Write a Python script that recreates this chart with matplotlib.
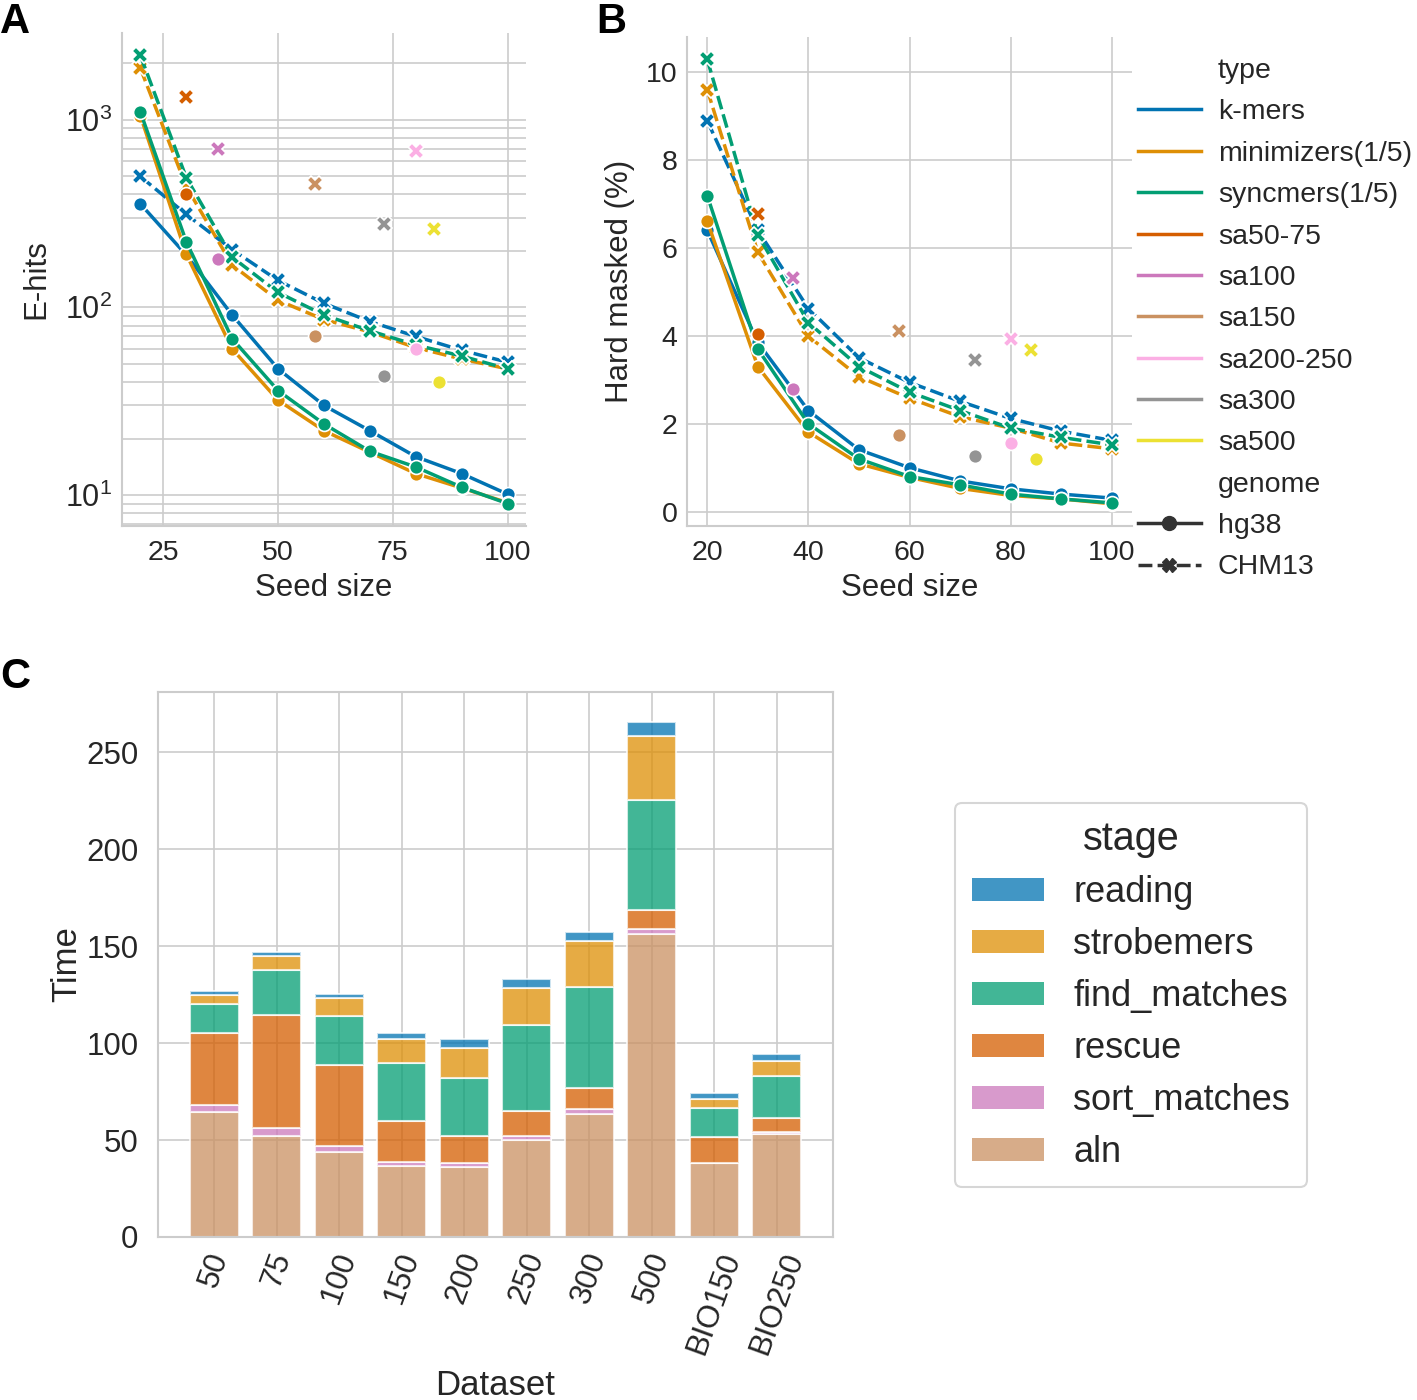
import matplotlib
matplotlib.use("Agg")
import matplotlib.pyplot as plt
from matplotlib.lines import Line2D
from matplotlib.patches import Patch
from matplotlib.ticker import LogLocator, NullFormatter, MultipleLocator

plt.rcParams['font.family'] = ['Liberation Sans', 'DejaVu Sans']
plt.rcParams['mathtext.fontset'] = 'custom'
plt.rcParams['mathtext.rm'] = 'Liberation Sans'
plt.rcParams['mathtext.it'] = 'Liberation Sans:italic'
plt.rcParams['text.color'] = '#262626'
plt.rcParams['axes.labelcolor'] = '#262626'
plt.rcParams['xtick.color'] = '#262626'
plt.rcParams['ytick.color'] = '#262626'

# ---------------- data ----------------
seeds = [20, 30, 40, 50, 60, 70, 80, 90, 100]
types = ['k-mers', 'minimizers(1/5)', 'syncmers(1/5)']

ehits_kmers_hg38 = [356, 190, 91, 47, 30, 22, 16, 13, 10.1]
ehits_minim_hg38 = [1050, 192, 60, 32, 22, 16.9, 13, 10.9, 9.1]
ehits_syncm_hg38 = [1100, 224, 68, 36, 23.9, 17.1, 14.1, 11, 9.0]
ehits_kmers_chm13 = [498, 313, 203, 139, 105, 84, 70, 59, 51]
ehits_minim_chm13 = [1880, 440, 168, 109, 86, 74, 61, 53, 47]
ehits_syncm_chm13 = [2200, 491, 185, 120, 91, 75, 63, 55, 47]

masked_kmers_hg38 = [6.40, 3.85, 2.30, 1.41, 1.00, 0.70, 0.52, 0.40, 0.31]
masked_minim_hg38 = [6.61, 3.30, 1.81, 1.09, 0.78, 0.53, 0.37, 0.29, 0.18]
masked_syncm_hg38 = [7.19, 3.70, 2.00, 1.20, 0.80, 0.61, 0.40, 0.29, 0.20]
masked_kmers_chm13 = [8.89, 6.40, 4.62, 3.50, 2.94, 2.51, 2.12, 1.83, 1.62]
masked_minim_chm13 = [9.60, 5.90, 3.99, 3.07, 2.58, 2.16, 1.90, 1.56, 1.43]
masked_syncm_chm13 = [10.29, 6.30, 4.30, 3.30, 2.72, 2.30, 1.90, 1.69, 1.52]

sa_types = ['sa50-75', 'sa100', 'sa150', 'sa200-250', 'sa300', 'sa500']
sa_seed_hg38 = [30, 37, 58, 80, 73, 85]
sa_seed_chm13 = [30, 37, 58, 80, 73, 84]
sa_ehits_hg38 = [403, 180, 70, 60, 43, 40]
sa_ehits_chm13 = [1325, 695, 454, 680, 277, 261]
sa_masked_hg38 = [4.04, 2.78, 1.74, 1.56, 1.27, 1.20]
sa_masked_chm13 = [6.77, 5.32, 4.10, 3.92, 3.44, 3.67]

datasets = ['50', '75', '100', '150', '200', '250', '300', '500', 'BIO150', 'BIO250']
stages = ['reading', 'strobemers', 'find_matches', 'rescue', 'sort_matches', 'aln']
time_aln = [64.6, 52.0, 43.7, 36.7, 36.2, 49.9, 63.4, 156.1, 38.0, 53.2]
time_sort = [3.3, 4.0, 3.1, 1.9, 1.8, 2.4, 2.7, 2.7, 0.2, 1.0]
time_rescue = [37.1, 58.4, 42.1, 21.4, 14.3, 12.9, 10.5, 9.6, 13.2, 7.3]
time_find = [15.0, 23.3, 25.3, 29.6, 29.8, 44.1, 52.5, 57.1, 15.1, 21.5]
time_strobe = [4.9, 7.0, 8.8, 12.7, 15.6, 19.2, 23.7, 32.9, 4.7, 7.9]
time_reading = [1.8, 2.0, 2.2, 2.9, 4.2, 4.6, 4.7, 6.9, 2.8, 3.7]

# ---------------- style ----------------
cb = ['#0173b2', '#de8f05', '#029e73', '#d55e00', '#cc78bc',
      '#ca9161', '#fbafe4', '#949494', '#ece133', '#56b4e9']
type_colors = cb[:3]
sa_colors = cb[3:9]
stage_colors = {'reading': cb[0], 'strobemers': cb[1], 'find_matches': cb[2],
                'rescue': cb[3], 'sort_matches': cb[4], 'aln': cb[5]}
GRID = '#cccccc'
LW = 2.5
MS = 10
DASH = (4, 1.5)

W, H = 1417, 1400
fig = plt.figure(figsize=(W / 100, H / 100), dpi=100)

def style_axes(ax, tick_fs, full_frame=False, xpad=10, ypad=7):
    ax.set_axisbelow(True)
    ax.grid(True, color=GRID, linewidth=1.2)
    for side, sp in ax.spines.items():
        sp.set_color(GRID)
        sp.set_linewidth(1.5)
        if not full_frame and side in ('top', 'right'):
            sp.set_visible(False)
    ax.tick_params(axis='both', which='both', length=0, labelsize=tick_fs)
    ax.tick_params(axis='x', pad=xpad)
    ax.tick_params(axis='y', pad=ypad)

axA = fig.add_axes([122 / W, 1 - 526 / H, (526 - 122) / W, (526 - 33) / H])
axB = fig.add_axes([687 / W, 1 - 526 / H, (1132 - 687) / W, (526 - 37) / H])
axC = fig.add_axes([158 / W, 1 - 1237 / H, (833 - 158) / W, (1237 - 692) / H])

ehits_hg38 = [ehits_kmers_hg38, ehits_minim_hg38, ehits_syncm_hg38]
ehits_chm13 = [ehits_kmers_chm13, ehits_minim_chm13, ehits_syncm_chm13]
masked_hg38 = [masked_kmers_hg38, masked_minim_hg38, masked_syncm_hg38]
masked_chm13 = [masked_kmers_chm13, masked_minim_chm13, masked_syncm_chm13]

for ax, hg, chm, sah, sac in [(axA, ehits_hg38, ehits_chm13, sa_ehits_hg38, sa_ehits_chm13),
                              (axB, masked_hg38, masked_chm13, sa_masked_hg38, sa_masked_chm13)]:
    for i, c in enumerate(type_colors):
        ax.plot(seeds, hg[i], color=c, lw=LW, marker='o', ms=MS,
                mec='white', mew=1.2, zorder=3)
        ln, = ax.plot(seeds, chm[i], color=c, lw=LW, marker='X', ms=MS + 1,
                      mec='white', mew=1.2, zorder=3)
        ln.set_dashes(DASH)
    for j, c in enumerate(sa_colors):
        ax.plot([sa_seed_hg38[j]], [sah[j]], color=c, marker='o', ms=MS,
                mec='white', mew=1.2, ls='none', zorder=4)
        ax.plot([sa_seed_chm13[j]], [sac[j]], color=c, marker='X', ms=MS + 1,
                mec='white', mew=1.2, ls='none', zorder=4)

axA.set_yscale('log')
axA.yaxis.set_minor_locator(LogLocator(base=10, subs=range(2, 10)))
axA.yaxis.set_minor_formatter(NullFormatter())
style_axes(axA, 20.5)
axA.yaxis.grid(True, which='minor', color=GRID, linewidth=1.2)
axA.set_xticks([25, 50, 75, 100])
axA.tick_params(axis='y', labelsize=22)
axA.set_xlabel('Seed size', fontsize=22.5, labelpad=5)
axA.set_ylabel('E-hits', fontsize=22.5, labelpad=10)

style_axes(axB, 20.5)
axB.set_xticks([20, 40, 60, 80, 100])
axB.set_yticks([0, 2, 4, 6, 8, 10])
axB.set_xlabel('Seed size', fontsize=22.5, labelpad=5)
axB.set_ylabel('Hard masked (%)', fontsize=22.5, labelpad=8)

# legend for A/B
blank = Line2D([], [], ls='none')
handles = [blank] + [Line2D([], [], color=c, lw=LW) for c in type_colors + sa_colors] + [blank]
hg_h = Line2D([], [], color='#333333', lw=LW, marker='o', ms=MS)
chm_h = Line2D([], [], color='#333333', lw=LW, marker='X', ms=MS)
chm_h.set_dashes(DASH)
handles += [hg_h, chm_h]
labels = ['type'] + types + sa_types + ['genome', 'hg38', 'CHM13']
fig.legend(handles, labels, loc='upper left', bbox_to_anchor=(1138 / W, 1 - 58 / H),
           frameon=False, fontsize=20.5, labelspacing=0.54, handlelength=2.2,
           handletextpad=0.6, borderpad=0, borderaxespad=0)

# panel C
style_axes(axC, 22.5, full_frame=True, xpad=8, ypad=14)
x = list(range(len(datasets)))
bottom = [0.0] * len(datasets)
stack = [('aln', time_aln), ('sort_matches', time_sort), ('rescue', time_rescue),
         ('find_matches', time_find), ('strobemers', time_strobe), ('reading', time_reading)]
for name, vals in stack:
    axC.bar(x, vals, bottom=bottom, width=0.79, color=stage_colors[name], alpha=0.75,
            edgecolor='white', linewidth=1.5, zorder=2)
    bottom = [b + v for b, v in zip(bottom, vals)]
axC.set_xlim(-0.9, 9.9)
axC.set_ylim(0, 281)
axC.yaxis.set_major_locator(MultipleLocator(50))
axC.set_xticks(x)
axC.set_xticklabels(datasets, rotation=70, ha='center', va='top')
axC.set_xlabel('Dataset', fontsize=25, labelpad=8)
axC.set_ylabel('Time', fontsize=25, labelpad=2)

c_handles = [Patch(facecolor=stage_colors[s], alpha=0.75, edgecolor='none') for s in stages]
legC = fig.legend(c_handles, stages, title='stage', loc='upper left',
                  bbox_to_anchor=(955 / W, 1 - 803 / H), fontsize=26, title_fontsize=28.5,
                  frameon=True, fancybox=True, labelspacing=0.47, handlelength=2.0,
                  handleheight=0.6, handletextpad=0.8, borderpad=0.47, borderaxespad=0)
legC.get_frame().set_edgecolor(GRID)
legC.get_frame().set_linewidth(1.5)

# panel letters
fig.text(0 / W, 1 - 2 / H, 'A', fontsize=30, fontweight='bold', va='top', ha='left', color='black')
fig.text(596 / W, 1 - 2 / H, 'B', fontsize=30, fontweight='bold', va='top', ha='left', color='black')
fig.text(0 / W, 1 - 657 / H, 'C', fontsize=30, fontweight='bold', va='top', ha='left', color='black')

fig.savefig('out.png', dpi=100)
